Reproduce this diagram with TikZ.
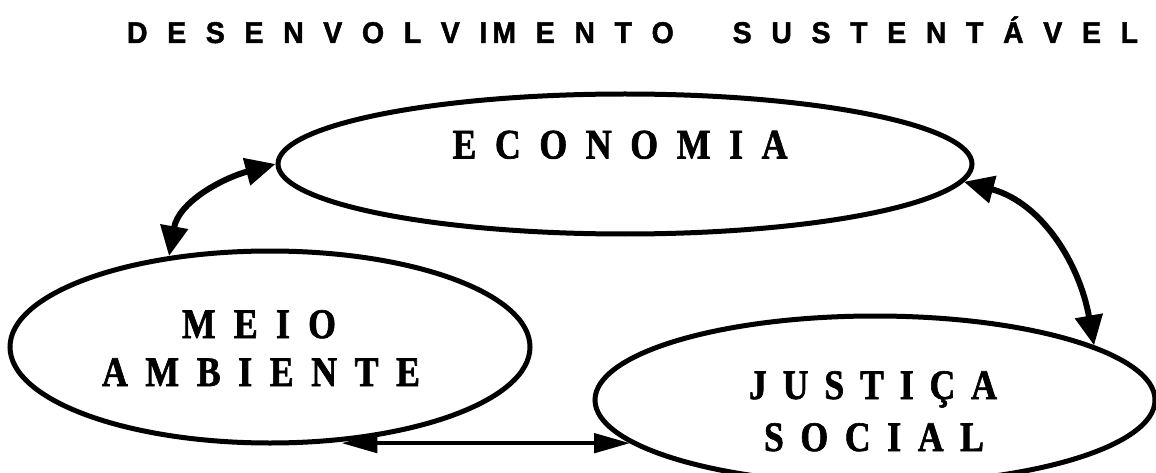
\documentclass[tikz,border=0pt]{standalone}
\usepackage{fontspec}
\usetikzlibrary{shapes.geometric,arrows.meta}
\newfontfamily\titlefont{Liberation Sans Bold}[FakeStretch=0.95,FakeBold=1.5]
\newfontfamily\labelfont{Liberation Serif Bold}[FakeStretch=0.85,FakeBold=1.5]
\newcommand\spreadbox[2]{\makebox[#1][s]{#2}}
\begin{document}
\begin{tikzpicture}[x=1pt,y=-1pt,
  ell/.style={draw,ellipse,line width=5pt,inner sep=0pt,fill=white},
  lbl/.style={font=\labelfont\fontsize{42}{48}\selectfont,inner sep=0pt,anchor=base},
  ttl/.style={font=\titlefont\fontsize{30}{36}\selectfont,inner sep=0pt,anchor=base},
  carr/.style={line width=6pt,{Triangle[length=30pt,width=27pt]}-{Triangle[length=30pt,width=27pt]}},
  harr/.style={line width=4.5pt,{Triangle[length=36pt,width=19pt]}-{Triangle[length=36pt,width=19pt]}},
]
\useasboundingbox[fill=white] (0,0) rectangle (1156,473);
\node[ttl] (title) at (632.5,43) {\spreadbox{1011pt}{D\hfil E\hfil S\hfil E\hfil N\hfil V\hfil O\hfil L\hfil V\hfil I\hspace{5pt}M\hfil E\hfil N\hfil T\hfil O\hfil\hfil\hfil S\hfil U\hfil S\hfil T\hfil E\hfil N\hfil T\hfil Á\hfil V\hfil E\hfil L}};
\node[ell, minimum width=694pt, minimum height=140pt] (eco) at (625,164) {};
\node[ell, minimum width=520pt, minimum height=192pt] (meio) at (270,347) {};
\node[ell, minimum width=560pt, minimum height=168pt] (jus) at (875,400) {};
\node[lbl] (t1) at (620,158.5) {\spreadbox{335pt}{E\hfil C\hfil O\hfil N\hfil O\hfil M\hfil I\hfil A}};
\node[lbl] (t2) at (259,338) {\spreadbox{154pt}{M\hfil E\hfil I\hfil O}};
\node[lbl] (t3) at (261,386) {\spreadbox{318pt}{A\hfil M\hfil B\hfil I\hfil E\hfil N\hfil T\hfil E}};
\node[lbl] (t4) at (873,399) {\spreadbox{248pt}{J\hfil U\hfil S\hfil T\hfil I\hfil Ç\hfil A}};
\node[lbl] (t5) at (874,451) {\spreadbox{220pt}{S\hfil O\hfil C\hfil I\hfil A\hfil L}};
\draw[carr] (eco.west) to[out=195,in=80] (meio.138);
\draw[carr] (eco.-3) to[out=-15,in=100] (jus.14);
\draw[harr] (jus.190 -| meio.-53) -- (jus.190);
\end{tikzpicture}
\end{document}
